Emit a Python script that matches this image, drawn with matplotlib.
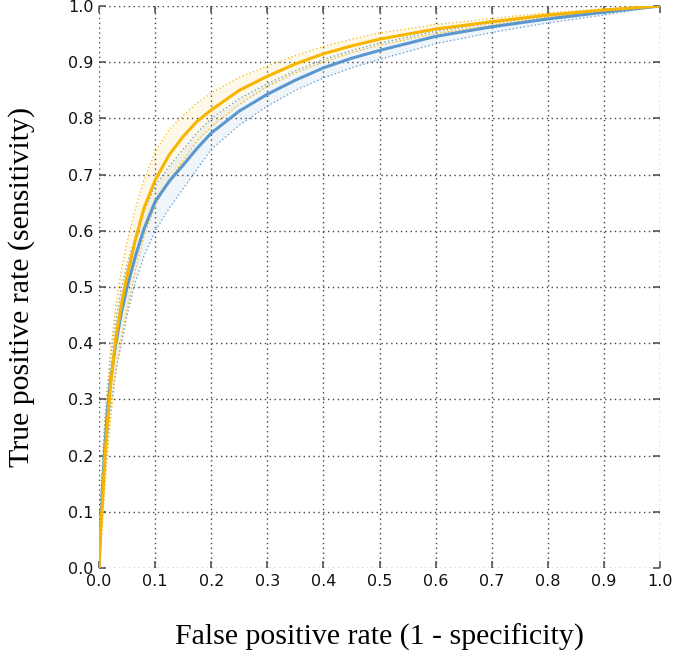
import matplotlib
matplotlib.use('Agg')
import matplotlib.pyplot as plt
import numpy as np

# ROC curves (x = false positive rate)
fpr = [0, 0.0025, 0.005, 0.01, 0.015, 0.02, 0.03, 0.04, 0.05, 0.065, 0.08, 0.1, 0.125,
       0.15, 0.175, 0.2, 0.25, 0.3, 0.35, 0.4, 0.45, 0.5, 0.6, 0.7, 0.8, 0.9, 1.0]

tpr_orange = [0, 0.06, 0.10, 0.19, 0.26, 0.32, 0.41, 0.47, 0.52, 0.585, 0.64, 0.69, 0.735,
              0.768, 0.795, 0.815, 0.85, 0.875, 0.897, 0.915, 0.929, 0.941, 0.959, 0.972, 0.984, 0.993, 1.0]
tpr_orange_hi = [0, 0.10, 0.15, 0.25, 0.32, 0.38, 0.47, 0.53, 0.58, 0.64, 0.69, 0.74, 0.78,
                 0.805, 0.828, 0.845, 0.873, 0.893, 0.912, 0.928, 0.941, 0.952, 0.967, 0.978, 0.988, 0.995, 1.0]
tpr_orange_lo = [0, 0.03, 0.06, 0.14, 0.20, 0.26, 0.35, 0.41, 0.46, 0.53, 0.59, 0.645, 0.69,
                 0.725, 0.76, 0.785, 0.825, 0.857, 0.881, 0.900, 0.917, 0.930, 0.951, 0.966, 0.980, 0.990, 1.0]

tpr_blue = [0, 0.07, 0.12, 0.21, 0.28, 0.33, 0.40, 0.455, 0.50, 0.555, 0.603, 0.652, 0.688,
            0.717, 0.747, 0.774, 0.813, 0.843, 0.868, 0.890, 0.907, 0.921, 0.946, 0.963, 0.977, 0.989, 1.0]
tpr_blue_hi = [0, 0.11, 0.16, 0.26, 0.32, 0.37, 0.44, 0.50, 0.54, 0.59, 0.635, 0.68, 0.715,
               0.745, 0.775, 0.80, 0.835, 0.862, 0.885, 0.905, 0.921, 0.934, 0.955, 0.970, 0.982, 0.992, 1.0]
tpr_blue_lo = [0, 0.04, 0.08, 0.16, 0.23, 0.28, 0.35, 0.40, 0.45, 0.51, 0.555, 0.60, 0.64,
               0.675, 0.71, 0.745, 0.788, 0.822, 0.850, 0.872, 0.890, 0.905, 0.933, 0.953, 0.970, 0.984, 1.0]

ticks = np.round(np.arange(0, 1.01, 0.1), 1)

orange = '#f7b500'
blue = '#5b97cf'

fig = plt.figure(figsize=(6.75, 6.55), dpi=100)
ax = fig.add_axes([0.1467, 0.1328, 0.8311, 0.858])

# confidence bands
ax.fill_between(fpr, tpr_blue_lo, tpr_blue_hi, color=blue, alpha=0.09, lw=0)
ax.fill_between(fpr, tpr_orange_lo, tpr_orange_hi, color=orange, alpha=0.09, lw=0)
for lo, hi, c in [(tpr_blue_lo, tpr_blue_hi, blue), (tpr_orange_lo, tpr_orange_hi, orange)]:
    ax.plot(fpr, lo, color=c, lw=0.9, ls=(0, (1, 2)))
    ax.plot(fpr, hi, color=c, lw=0.9, ls=(0, (1, 2)))

# main curves
ax.plot(fpr, tpr_blue, color=blue, lw=2.2)
ax.plot(fpr, tpr_orange, color=orange, lw=2.2)

ax.set_xlim(0, 1)
ax.set_ylim(0, 1)
ax.set_xticks(ticks)
ax.set_yticks(ticks)
ax.set_xticklabels(['%.1f' % t for t in ticks])
ax.set_yticklabels(['%.1f' % t for t in ticks])
ax.tick_params(direction='in', length=5, width=1.2, color='#555555', labelsize=11.5,
               labelcolor='#111111', top=True, right=True, pad=4)
for s in ax.spines.values():
    s.set_visible(False)
ax.grid(True, color='#444444', ls=(0, (1, 2.5)), lw=1)
ax.set_axisbelow(True)

ax.set_xlabel('False positive rate (1 - specificity)', fontsize=21.5,
              family='Liberation Serif', labelpad=25)
ax.set_ylabel('True positive rate (sensitivity)', fontsize=21.5,
              family='Liberation Serif', labelpad=24)

fig.savefig('out.png', dpi=100)
